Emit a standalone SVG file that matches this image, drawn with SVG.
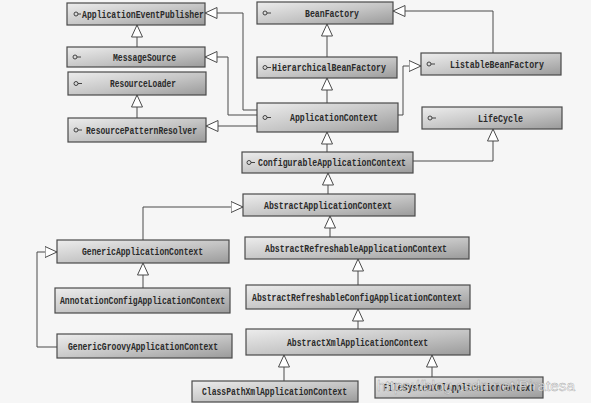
<svg xmlns="http://www.w3.org/2000/svg" width="591" height="403" viewBox="0 0 591 403">
<defs>
<linearGradient id="g" x1="0" y1="0" x2="1" y2="1">
<stop offset="0" stop-color="#ededed"/>
<stop offset="0.55" stop-color="#c4c4c4"/>
<stop offset="1" stop-color="#9a9a9a"/>
</linearGradient>
<marker id="tri" viewBox="0 0 13 12" refX="12.5" refY="6" markerWidth="13" markerHeight="12" markerUnits="userSpaceOnUse" orient="auto">
<path d="M0.5,0.5 L12.5,6 L0.5,11.5 Z" fill="#ffffff" stroke="#4a4a4a" stroke-width="1"/>
</marker>
</defs>
<style>
.box{fill:url(#g);stroke:#4a4a4a;stroke-width:1.2}
.t{font-family:"Liberation Mono",monospace;font-size:10px;font-weight:bold;fill:#2a2a2a}
.ic circle{fill:none;stroke:#333;stroke-width:0.9}
.ic line{stroke:#333;stroke-width:0.9}
#connectors path{fill:none;stroke:#4a4a4a;stroke-width:1;marker-end:url(#tri)}
.wm{font-family:"Liberation Sans",Arial,sans-serif;font-size:15px;fill:#ffffff;fill-opacity:0.75;stroke:#8a8a8a;stroke-opacity:0.7;stroke-width:0.5}
</style>
<rect x="0" y="0" width="591" height="403" fill="#f6f6f6"/>

<g id="connectors">
<path d="M257,110 H243 V13 H205"/>
<path d="M257,115 H228 V57 H205"/>
<path d="M257,126 H206"/>
<path d="M137,118 V95"/>
<path d="M137,47 V25"/>
<path d="M327,57 V24"/>
<path d="M327,103 V78"/>
<path d="M493,53 V11 H393"/>
<path d="M398,115 H403 V66 H421"/>
<path d="M327,152 V132"/>
<path d="M413,161 H493 V129"/>
<path d="M328,194 V173"/>
<path d="M143,240 V207 H243"/>
<path d="M330,237 V216"/>
<path d="M143,288 V263"/>
<path d="M57,347 H37 V252 H57"/>
<path d="M358,285 V259"/>
<path d="M358,329 V309"/>
<path d="M284,381 V355"/>
<path d="M432,377 V355"/>
</g>

<g id="ApplicationEventPublisher"><rect class="box" x="67" y="3" width="138" height="22"/><g class="ic"><circle cx="76" cy="14" r="2"/><line x1="78" y1="14" x2="81" y2="14"/></g><text class="t" x="82" y="17.5" textLength="122" lengthAdjust="spacingAndGlyphs">ApplicationEventPublisher</text></g>
<g id="MessageSource"><rect class="box" x="67" y="47" width="138" height="20"/><g class="ic"><circle cx="75" cy="57" r="2"/><line x1="77" y1="57" x2="81" y2="57"/></g><text class="t" x="113" y="60.5" textLength="63" lengthAdjust="spacingAndGlyphs">MessageSource</text></g>
<g id="ResourceLoader"><rect class="box" x="68" y="72" width="138" height="23"/><g class="ic"><circle cx="76" cy="83.5" r="2"/><line x1="78" y1="83.5" x2="82" y2="83.5"/></g><text class="t" x="110" y="87" textLength="66" lengthAdjust="spacingAndGlyphs">ResourceLoader</text></g>
<g id="ResourcePatternResolver"><rect class="box" x="68" y="118" width="138" height="24"/><g class="ic"><circle cx="76" cy="130" r="2"/><line x1="78" y1="130" x2="82" y2="130"/></g><text class="t" x="86" y="133.5" textLength="111" lengthAdjust="spacingAndGlyphs">ResourcePatternResolver</text></g>
<g id="BeanFactory"><rect class="box" x="257" y="2" width="136" height="22"/><g class="ic"><circle cx="265" cy="13" r="2"/><line x1="267" y1="13" x2="271" y2="13"/></g><text class="t" x="305" y="16.5" textLength="54" lengthAdjust="spacingAndGlyphs">BeanFactory</text></g>
<g id="HierarchicalBeanFactory"><rect class="box" x="257" y="57" width="140" height="21"/><g class="ic"><circle cx="265" cy="67.5" r="2"/><line x1="267" y1="67.5" x2="271" y2="67.5"/></g><text class="t" x="272" y="71" textLength="114" lengthAdjust="spacingAndGlyphs">HierarchicalBeanFactory</text></g>
<g id="ApplicationContext"><rect class="box" x="257" y="103" width="141" height="29"/><g class="ic"><circle cx="265" cy="117.5" r="2"/><line x1="267" y1="117.5" x2="271" y2="117.5"/></g><text class="t" x="290" y="121" textLength="88" lengthAdjust="spacingAndGlyphs">ApplicationContext</text></g>
<g id="ListableBeanFactory"><rect class="box" x="421" y="53" width="140" height="22"/><g class="ic"><circle cx="429" cy="64" r="2"/><line x1="431" y1="64" x2="435" y2="64"/></g><text class="t" x="450" y="67.5" textLength="94" lengthAdjust="spacingAndGlyphs">ListableBeanFactory</text></g>
<g id="LifeCycle"><rect class="box" x="422" y="107" width="140" height="22"/><g class="ic"><circle cx="430" cy="118" r="2"/><line x1="432" y1="118" x2="436" y2="118"/></g><text class="t" x="478" y="121.5" textLength="45" lengthAdjust="spacingAndGlyphs">LifeCycle</text></g>
<g id="ConfigurableApplicationContext"><rect class="box" x="242" y="152" width="171" height="21"/><g class="ic"><circle cx="249" cy="162.5" r="2"/><line x1="251" y1="162.5" x2="255" y2="162.5"/></g><text class="t" x="258" y="166" textLength="148" lengthAdjust="spacingAndGlyphs">ConfigurableApplicationContext</text></g>
<g id="AbstractApplicationContext"><rect class="box" x="243" y="194" width="172" height="22"/><text class="t" x="264" y="208.5" textLength="128" lengthAdjust="spacingAndGlyphs">AbstractApplicationContext</text></g>
<g id="GenericApplicationContext"><rect class="box" x="57" y="240" width="172" height="23"/><text class="t" x="82" y="255" textLength="121" lengthAdjust="spacingAndGlyphs">GenericApplicationContext</text></g>
<g id="AbstractRefreshableApplicationContext"><rect class="box" x="245" y="237" width="224" height="22"/><text class="t" x="265" y="251.5" textLength="182" lengthAdjust="spacingAndGlyphs">AbstractRefreshableApplicationContext</text></g>
<g id="AnnotationConfigApplicationContext"><rect class="box" x="55" y="288" width="175" height="25"/><text class="t" x="60" y="304" textLength="165" lengthAdjust="spacingAndGlyphs">AnnotationConfigApplicationContext</text></g>
<g id="GenericGroovyApplicationContext"><rect class="box" x="57" y="334" width="175" height="24"/><text class="t" x="68" y="349.5" textLength="150" lengthAdjust="spacingAndGlyphs">GenericGroovyApplicationContext</text></g>
<g id="AbstractRefreshableConfigApplicationContext"><rect class="box" x="246" y="285" width="224" height="24"/><text class="t" x="252" y="300.5" textLength="210" lengthAdjust="spacingAndGlyphs">AbstractRefreshableConfigApplicationContext</text></g>
<g id="AbstractXmlApplicationContext"><rect class="box" x="246" y="329" width="224" height="26"/><text class="t" x="287" y="345.5" textLength="141" lengthAdjust="spacingAndGlyphs">AbstractXmlApplicationContext</text></g>
<g id="ClassPathXmlApplicationContext"><rect class="box" x="192" y="381" width="166" height="21"/><text class="t" x="202" y="395" textLength="145" lengthAdjust="spacingAndGlyphs">ClassPathXmlApplicationContext</text></g>
<g id="FileSystemXmlApplicationContext"><rect class="box" x="375" y="377" width="168" height="21"/><text class="t" x="383" y="391" textLength="152" lengthAdjust="spacingAndGlyphs">FileSystemXmlApplicationContext</text></g>

<text class="wm" x="377" y="391" textLength="198" lengthAdjust="spacingAndGlyphs">https://blog.csdn.net/Piratesa</text>
</svg>
